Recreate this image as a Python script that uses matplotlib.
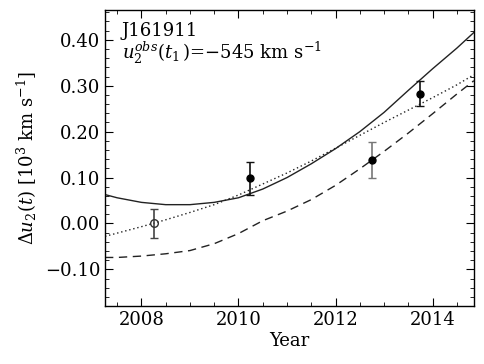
import matplotlib
matplotlib.use("Agg")
import matplotlib.pyplot as plt
from matplotlib.ticker import MultipleLocator, FuncFormatter

plt.rcParams['font.family'] = 'DejaVu Serif'
plt.rcParams['mathtext.fontset'] = 'dejavuserif'

# model curves
t_curve = [2007.25, 2007.5, 2008.0, 2008.5, 2009.0, 2009.5, 2010.0, 2010.5,
           2011.0, 2011.5, 2012.0, 2012.5, 2013.0, 2013.5, 2014.0, 2014.5, 2014.85]
solid = [0.063, 0.056, 0.046, 0.041, 0.041, 0.046, 0.056, 0.075,
         0.100, 0.130, 0.163, 0.200, 0.242, 0.290, 0.337, 0.382, 0.416]
dotted = [-0.028, -0.021, -0.007, 0.008, 0.024, 0.041, 0.062, 0.086,
          0.110, 0.136, 0.164, 0.192, 0.220, 0.247, 0.274, 0.302, 0.324]
dashed = [-0.074, -0.074, -0.071, -0.066, -0.059, -0.044, -0.022, 0.006,
          0.027, 0.052, 0.083, 0.119, 0.157, 0.197, 0.239, 0.282, 0.311]

# observations
t_obs = [2008.25, 2010.23, 2012.75, 2013.75]
du_obs = [0.000, 0.098, 0.138, 0.283]
du_err = [0.031, 0.036, 0.040, 0.027]
err_colors = ['#444444', '#111111', '#777777', '#111111']
filled = [False, True, True, True]

fig = plt.figure(figsize=(4.85, 3.64), dpi=100)
ax = fig.add_axes([0.2165, 0.159, 0.7605, 0.8135])

ax.plot(t_curve, solid, color='#222222', lw=1.0, ls='-')
ax.plot(t_curve, dotted, color='#222222', lw=1.0, ls=(0, (1, 2)))
ax.plot(t_curve, dashed, color='#222222', lw=1.0, ls=(0, (6, 4)))

for t, d, e, c, f in zip(t_obs, du_obs, du_err, err_colors, filled):
    ax.errorbar(t, d, yerr=e, fmt='o', ms=5 if f else 5.5,
                mfc='black' if f else 'none', mec='black' if f else '#333333',
                mew=1.0, ecolor=c, elinewidth=1.2, capsize=3, capthick=1.0)

ax.set_xlim(2007.25, 2014.85)
ax.set_ylim(-0.18, 0.465)
ax.xaxis.set_major_locator(MultipleLocator(2))
ax.xaxis.set_minor_locator(MultipleLocator(0.5))
ax.yaxis.set_major_locator(MultipleLocator(0.1))
ax.yaxis.set_minor_locator(MultipleLocator(0.02))
ax.yaxis.set_major_formatter(FuncFormatter(lambda v, p: f"{v:.2f}".replace('-', '\u2212')))
ax.tick_params(which='both', direction='in', top=True, right=True, labelsize=13)
ax.tick_params(which='major', length=6)
ax.tick_params(which='minor', length=3)
for s in ax.spines.values():
    s.set_linewidth(1.0)

ax.set_xlabel('Year', fontsize=13, labelpad=2)
ax.set_ylabel(r'$\Delta u_2(t)$ [10$^3$ km s$^{-1}$]', fontsize=13, labelpad=4)

ax.text(0.046, 0.912, 'J161911', transform=ax.transAxes, fontsize=13, va='baseline')
ax.text(0.046, 0.836, r'$u_2^{obs}(t_1\,)$=$-$545 km s$^{-1}$', transform=ax.transAxes,
        fontsize=13, va='baseline')

fig.savefig('out.png', dpi=100)
